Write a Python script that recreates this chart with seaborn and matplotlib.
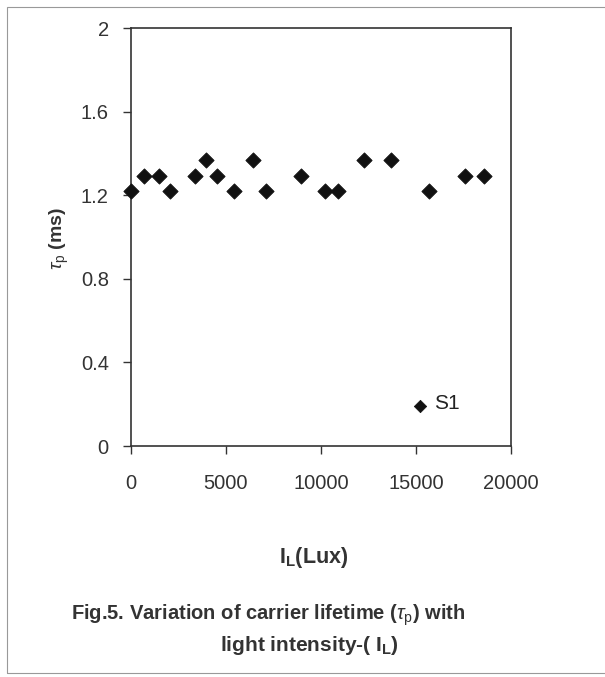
import numpy as np
import pandas as pd
import matplotlib
matplotlib.use('Agg')
import matplotlib.pyplot as plt
import seaborn as sns
from matplotlib.patches import Rectangle

# light intensity (lux) and carrier lifetime (ms), sample S1
intensity = [0, 700, 1500, 2050, 3350, 3950, 4550, 5400, 6400, 7100,
             8950, 10200, 10900, 12250, 13700, 15700, 17600, 18600]
lifetime = [1.22, 1.29, 1.29, 1.22, 1.29, 1.37, 1.29, 1.22, 1.37, 1.22,
            1.29, 1.22, 1.22, 1.37, 1.37, 1.22, 1.29, 1.29]
s1_x = [15200]
s1_y = [0.19]

df = pd.DataFrame({'IL': intensity, 'tau': lifetime})

sns.set_style('ticks')
plt.rcParams['font.family'] = ['Liberation Sans', 'DejaVu Sans']
plt.rcParams['mathtext.fontset'] = 'custom'
plt.rcParams['mathtext.rm'] = 'Liberation Sans'
plt.rcParams['mathtext.it'] = 'Liberation Sans:italic'
plt.rcParams['mathtext.bf'] = 'Liberation Sans:bold'

fig = plt.figure(figsize=(6.05, 6.77), dpi=100)
ax = fig.add_axes([0.2165, 0.3412, 0.628, 0.6174])

sns.scatterplot(x='IL', y='tau', data=df, marker='D', s=60, color='#111111',
                edgecolor='#111111', ax=ax, clip_on=False, zorder=3)
sns.scatterplot(x=s1_x, y=s1_y, marker='D', s=40, color='#111111',
                edgecolor='#111111', ax=ax, zorder=3)
ax.text(s1_x[0] + 750, s1_y[0] + 0.015, 'S1', fontsize=15, color='#222222', va='center')

ax.set_xlim(0, 20000)
ax.set_ylim(0, 2)
ax.set_xticks([0, 5000, 10000, 15000, 20000])
ax.set_yticks([0, 0.4, 0.8, 1.2, 1.6, 2])
ax.set_yticklabels(['0', '0.4', '0.8', '1.2', '1.6', '2'])
ax.tick_params(labelsize=14.5, colors='#333333', length=6, width=1, direction='out')
ax.tick_params(axis='x', pad=14)
ax.tick_params(axis='y', pad=10)
for sp in ax.spines.values():
    sp.set_color('#333333')
    sp.set_linewidth(1.2)
    sp.set_visible(True)

ax.set_xlabel('')
ax.set_ylabel('')
fig.text(0.099, 0.648, r'$\tau_\mathrm{p}$ (ms)', rotation=90, ha='center', va='center',
         fontsize=14, fontweight='bold', color='#333333')
fig.text(0.518, 0.176, r'I$_\mathbf{L}$(Lux)', ha='center', va='center',
         fontsize=15.5, fontweight='bold', color='#333333')
fig.text(0.443, 0.091, r'Fig.5. Variation of carrier lifetime ($\tau_\mathrm{p}$) with',
         ha='center', va='center', fontsize=14.5, fontweight='bold', color='#333333')
fig.text(0.512, 0.047, r'light intensity-( I$_\mathbf{L}$)', ha='center', va='center',
         fontsize=15, fontweight='bold', color='#333333')

# thin frame around the figure
fig.patches.append(Rectangle((0.012, 0.006), 1.2, 0.983, transform=fig.transFigure,
                             fill=False, edgecolor='#999999', linewidth=0.8))

fig.savefig('out.png', dpi=100)
